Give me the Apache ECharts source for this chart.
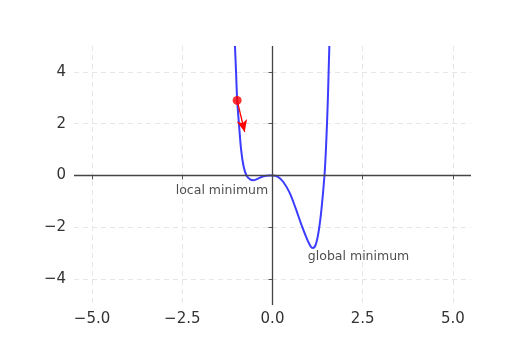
<!DOCTYPE html>
<html>
<head>
<meta charset="utf-8">
<script src="https://cdn.jsdelivr.net/npm/echarts@6/dist/echarts.min.js"></script>
<style>
html,body{margin:0;padding:0;background:#fff;}
#c{width:509px;height:344px;}
</style>
</head>
<body>
<div id="c"></div>
<script>
// curve
const curveX = [-1.04, -1.01, -0.98, -0.93, -0.87, -0.80, -0.72, -0.62, -0.52, -0.40, -0.25, -0.10, 0.0, 0.15, 0.30, 0.48, 0.65, 0.80, 0.94, 1.05, 1.12, 1.20, 1.28, 1.36, 1.44, 1.475, 1.51, 1.535, 1.555, 1.575];
const curveY = [5.0, 4.0, 2.95, 2.0, 1.0, 0.35, 0.0, -0.15, -0.18, -0.12, -0.03, 0.0, 0.0, -0.05, -0.25, -0.68, -1.3, -1.9, -2.4, -2.72, -2.8, -2.66, -2.15, -1.26, 0.0, 0.85, 2.0, 3.0, 4.0, 5.0];
// current point and gradient arrow
const pointXY = [-0.98, 2.9];
const arrowEnd = [-0.77, 1.68];
// tick labels
const xTicks = [-5.0, -2.5, 0.0, 2.5, 5.0];
const yTicks = [-4, -2, 0, 2, 4];
// annotations
const annotations = [
  {text: 'local minimum', x: -0.12, y: -0.58, pos: 'left'},
  {text: 'global minimum', x: 0.98, y: -3.13, pos: 'right'}
];

const fmtMinus = s => s.replace('-', '\u2212');
const chart = echarts.init(document.getElementById('c'), null, {renderer: 'canvas'});
const curveData = curveX.map((x, i) => [x, curveY[i]]);
const gridLine = {show: true, lineStyle: {color: '#e6e6e6', type: [5, 4], width: 1}};

chart.setOption({
  animation: false,
  backgroundColor: '#fff',
  grid: {left: 74, right: 38, top: 46, bottom: 39},
  xAxis: {
    type: 'value', min: -5.5, max: 5.5,
    axisLine: {show: false},
    axisTick: {show: true, length: 4, lineStyle: {color: '#555'}, customValues: xTicks},
    axisLabel: {color: '#333', fontSize: 15, fontFamily: 'DejaVu Sans', margin: 7,
      customValues: xTicks, formatter: v => fmtMinus(v.toFixed(1))},
    splitLine: gridLine
  },
  yAxis: {
    type: 'value', min: -5, max: 5,
    axisLine: {show: false},
    axisTick: {show: true, length: 4, lineStyle: {color: '#555'}, customValues: yTicks},
    axisLabel: {color: '#333', fontSize: 15, fontFamily: 'DejaVu Sans', margin: 8,
      customValues: yTicks, formatter: v => fmtMinus(String(v))},
    splitLine: gridLine
  },
  series: [
    {
      type: 'line', data: curveData, smooth: 0.3, symbol: 'none', clip: true,
      lineStyle: {color: '#3c3cff', width: 2},
      z: 3,
      markLine: {
        silent: true, symbol: 'none', animation: false,
        lineStyle: {color: '#444', width: 1.3, type: 'solid'},
        label: {show: false},
        data: [{yAxis: 0}, {xAxis: 0}]
      }
    },
    {
      type: 'scatter', data: [pointXY], symbolSize: 9, z: 5,
      itemStyle: {color: '#ff0000'},
      markLine: {
        silent: true, symbol: ['none', 'arrow'], symbolSize: [8, 12], animation: false,
        lineStyle: {color: '#ff0000', width: 1.3, type: 'solid'},
        label: {show: false},
        data: [[{coord: pointXY}, {coord: arrowEnd}]]
      }
    },
    {
      type: 'scatter', symbolSize: 0, z: 6,
      data: annotations.map(a => ({value: [a.x, a.y], label: {show: true, position: a.pos, formatter: a.text, distance: 0}})),
      label: {color: '#222', fontSize: 12.5, fontFamily: 'DejaVu Sans'}
    }
  ]
});
</script>
</body>
</html>
